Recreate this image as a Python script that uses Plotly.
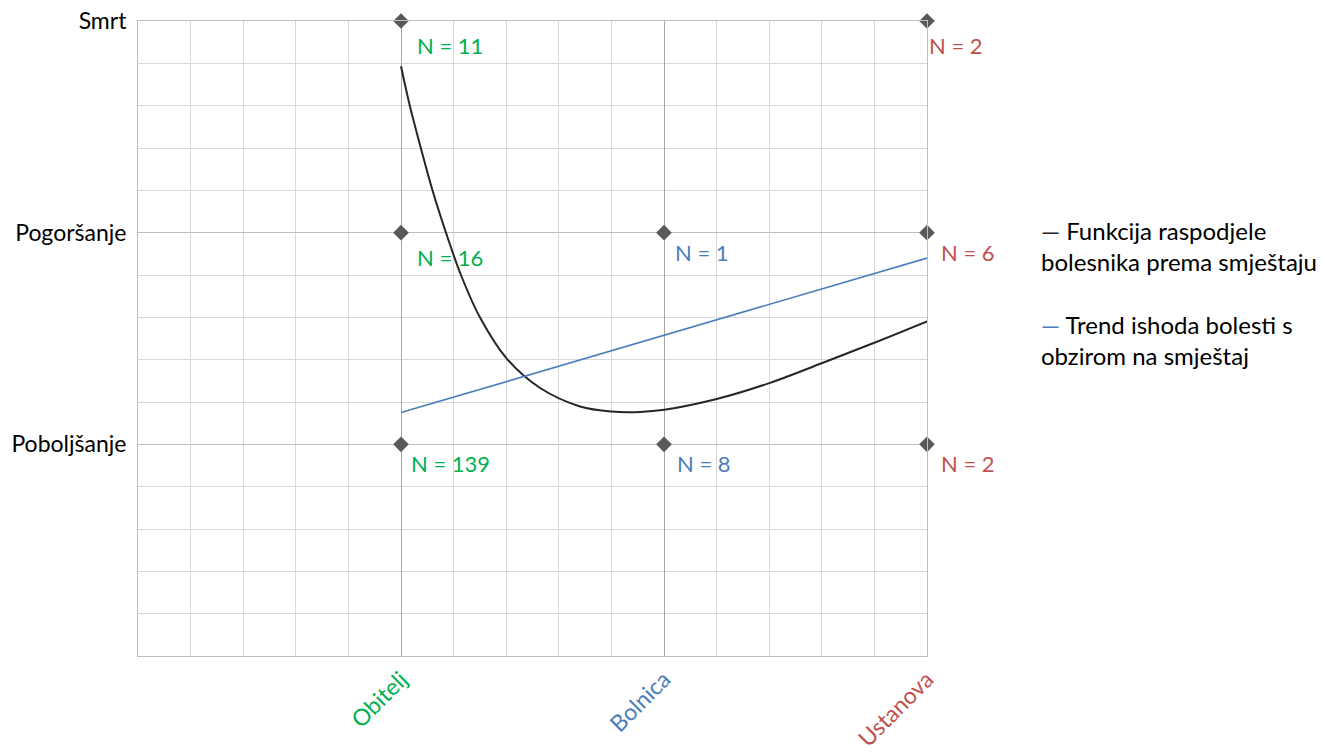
import plotly.graph_objects as go

# Categories (x) and outcomes (y)
categories = ["Obitelj", "Bolnica", "Ustanova"]
cat_colors = ["#00B050", "#4A7EBB", "#C0504D"]
outcomes = ["Poboljšanje", "Pogoršanje", "Smrt"]

# Grid points with counts
pt_x = [1, 3, 1, 2, 3, 1, 2, 3]
pt_y = [3, 3, 2, 2, 2, 1, 1, 1]
pt_n = [11, 2, 16, 1, 6, 139, 8, 2]
pt_cat = [0, 2, 0, 1, 2, 0, 1, 2]
lbl_dx = [14, 0, 14, 9, 12, 8, 11, 12]
lbl_dy = [-24, -24, -25, -20, -20, -19, -19, -19]

# Distribution function curve
curve_x = [1.0, 1.034, 1.076, 1.12, 1.171, 1.228, 1.30, 1.402, 1.529, 1.681,
           1.801, 1.909, 2.001, 2.200, 2.400, 2.602, 2.802, 3.0]
curve_y = [2.786, 2.597, 2.397, 2.199, 2.0, 1.80, 1.60, 1.405, 1.266, 1.179,
           1.155, 1.153, 1.163, 1.214, 1.289, 1.384, 1.481, 1.581]

# Trend line
trend_x = [1, 3]
trend_y = [1.15, 1.88]

legend_names = ["Funkcija raspodjele<br>bolesnika prema smještaju",
                "Trend ishoda bolesti s<br>obzirom na smještaj"]
legend_colors = ["#262626", "#4A7EBB"]

FONT = "Lato"

fig = go.Figure()

fig.add_trace(go.Scatter(x=curve_x, y=curve_y, mode="lines",
                         line=dict(color=legend_colors[0], width=2, shape="spline", smoothing=1.0),
                         name=legend_names[0], showlegend=False, hoverinfo="skip"))
fig.add_trace(go.Scatter(x=trend_x, y=trend_y, mode="lines",
                         line=dict(color=legend_colors[1], width=1.6),
                         name=legend_names[1], showlegend=False, hoverinfo="skip"))
fig.add_trace(go.Scatter(x=pt_x, y=pt_y, mode="markers",
                         marker=dict(symbol="diamond", size=12, color="#595959"),
                         showlegend=False, hoverinfo="skip", cliponaxis=False))

for x, y, n, c, dx, dy in zip(pt_x, pt_y, pt_n, pt_cat, lbl_dx, lbl_dy):
    fig.add_annotation(x=x, y=y, text=f"N = {n}", showarrow=False,
                       xanchor="left", yanchor="middle", xshift=dx, yshift=dy,
                       font=dict(family=FONT, size=22, color=cat_colors[c]))

# Legend drawn as text with dash glyphs
leg_y = [0.645, 0.498]
for name, col, ly in zip(legend_names, legend_colors, leg_y):
    fig.add_annotation(xref="paper", yref="paper", x=1.142, y=ly,
                       text=f"<span style='color:{col}'>—</span> {name}",
                       showarrow=False, xanchor="left", yanchor="middle", align="left",
                       font=dict(family=FONT, size=24, color="#000000"))

ticktext_x = [f"<span style='color:{c}'>{t}</span>" for t, c in zip(categories, cat_colors)]

fig.update_layout(
    width=1322, height=754,
    margin=dict(l=138, r=395, t=21, b=98),
    paper_bgcolor="white", plot_bgcolor="white",
    font=dict(family=FONT, size=21, color="#000000"),
    xaxis=dict(range=[0, 3], tickvals=[1, 2, 3], ticktext=ticktext_x, tickangle=-45,
               automargin=False,
               showgrid=True, gridcolor="#A6A6A6", gridwidth=1,
               minor=dict(dtick=0.2, showgrid=True, gridcolor="#D9D9D9", gridwidth=1, tick0=0),
               showline=True, linecolor="#BFBFBF", linewidth=1, mirror=True,
               zeroline=False, ticks="", tickfont=dict(family=FONT, size=23)),
    yaxis=dict(range=[0, 3], tickvals=[1, 2, 3], ticktext=outcomes,
               automargin=False,
               showgrid=True, gridcolor="#BFBFBF", gridwidth=1,
               minor=dict(dtick=0.2, showgrid=True, gridcolor="#D9D9D9", gridwidth=1, tick0=0),
               showline=True, linecolor="#BFBFBF", linewidth=1, mirror=True,
               zeroline=False, ticks="", ticklabelstandoff=6,
               tickfont=dict(family=FONT, size=23)),
)

fig.write_html("out.html", config={"displayModeBar": False},
               post_script="document.body.style.margin='0px';document.body.style.overflow='hidden';")
